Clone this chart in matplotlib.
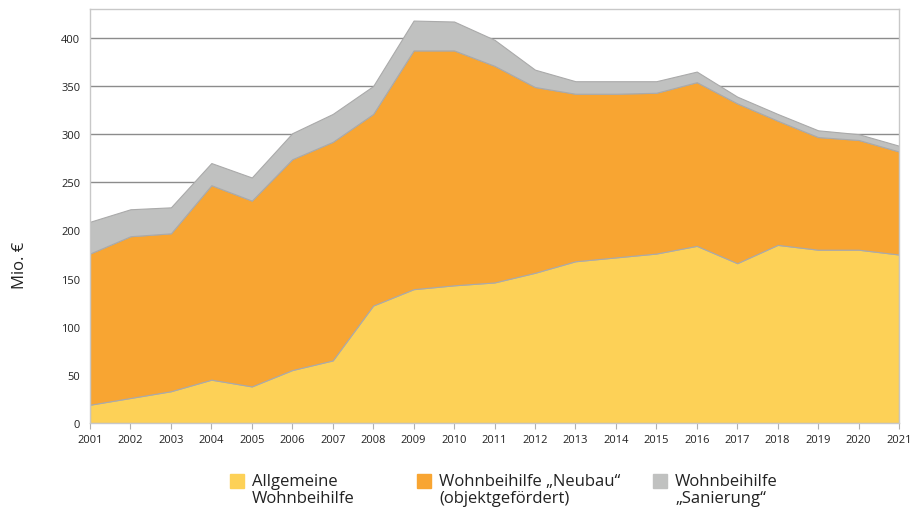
import matplotlib
matplotlib.use("Agg")
import matplotlib.pyplot as plt
from matplotlib.patches import Rectangle

plt.rcParams['font.family'] = ['Open Sans', 'DejaVu Sans']

years = list(range(2001, 2022))

# Mio. € per year
allgemeine = [19, 26, 33, 45, 38, 55, 65, 122, 139, 143, 146, 156, 168, 172, 176, 184, 166, 185, 180, 180, 175]
neubau = [157, 168, 164, 202, 193, 219, 227, 199, 248, 244, 225, 193, 174, 170, 167, 170, 166, 129, 117, 114, 107]
sanierung = [33, 28, 27, 23, 24, 27, 29, 29, 31, 30, 27, 18, 13, 13, 12, 11, 7, 7, 7, 6, 6]

labels = ['Allgemeine\nWohnbeihilfe',
          'Wohnbeihilfe „Neubau“\n(objektgefördert)',
          'Wohnbeihilfe\n„Sanierung“']
colors = ['#fdd157', '#f8a532', '#c0c1c0']

fig = plt.figure(figsize=(9.11, 5.10), dpi=100)
ax = fig.add_axes([90 / 911, 1 - 424 / 510, 809 / 911, 414 / 510])

ax.stackplot(years, allgemeine, neubau, sanierung, colors=colors,
             edgecolor='#aaaaaa', linewidth=0.8, zorder=2)

ax.set_xlim(2001, 2021)
ax.set_ylim(0, 430)
ax.set_xticks(years)
ax.set_yticks(range(0, 401, 50))
ax.grid(axis='y', color='#8c8c8c', linewidth=1.0, zorder=1)
ax.set_axisbelow(True)

for s in ax.spines.values():
    s.set_color('#c8c8c8')
    s.set_linewidth(1.0)
    s.set_zorder(3)

ax.tick_params(axis='x', length=4, color='#b0b0b0', labelsize=8, pad=4, labelcolor='#222222')
ax.tick_params(axis='y', length=0, labelsize=8, pad=7, labelcolor='#222222')

fig.text(20 / 911, 1 - 265 / 510, 'Mio. €', rotation=90, fontsize=12,
         ha='center', va='center', color='#222222')

# legend, square aligned with first text line
sq_x = [230, 417, 653]
for x, lab, col in zip(sq_x, labels, colors):
    fig.patches.append(Rectangle((x / 911, 1 - 489 / 510), 14 / 911, 14 / 510,
                                 transform=fig.transFigure, color=col))
    fig.text((x + 22) / 911, 1 - 474 / 510, lab, fontsize=12, ha='left', va='top',
             color='#222222', linespacing=1.12)

fig.savefig('out.png', dpi=100)
